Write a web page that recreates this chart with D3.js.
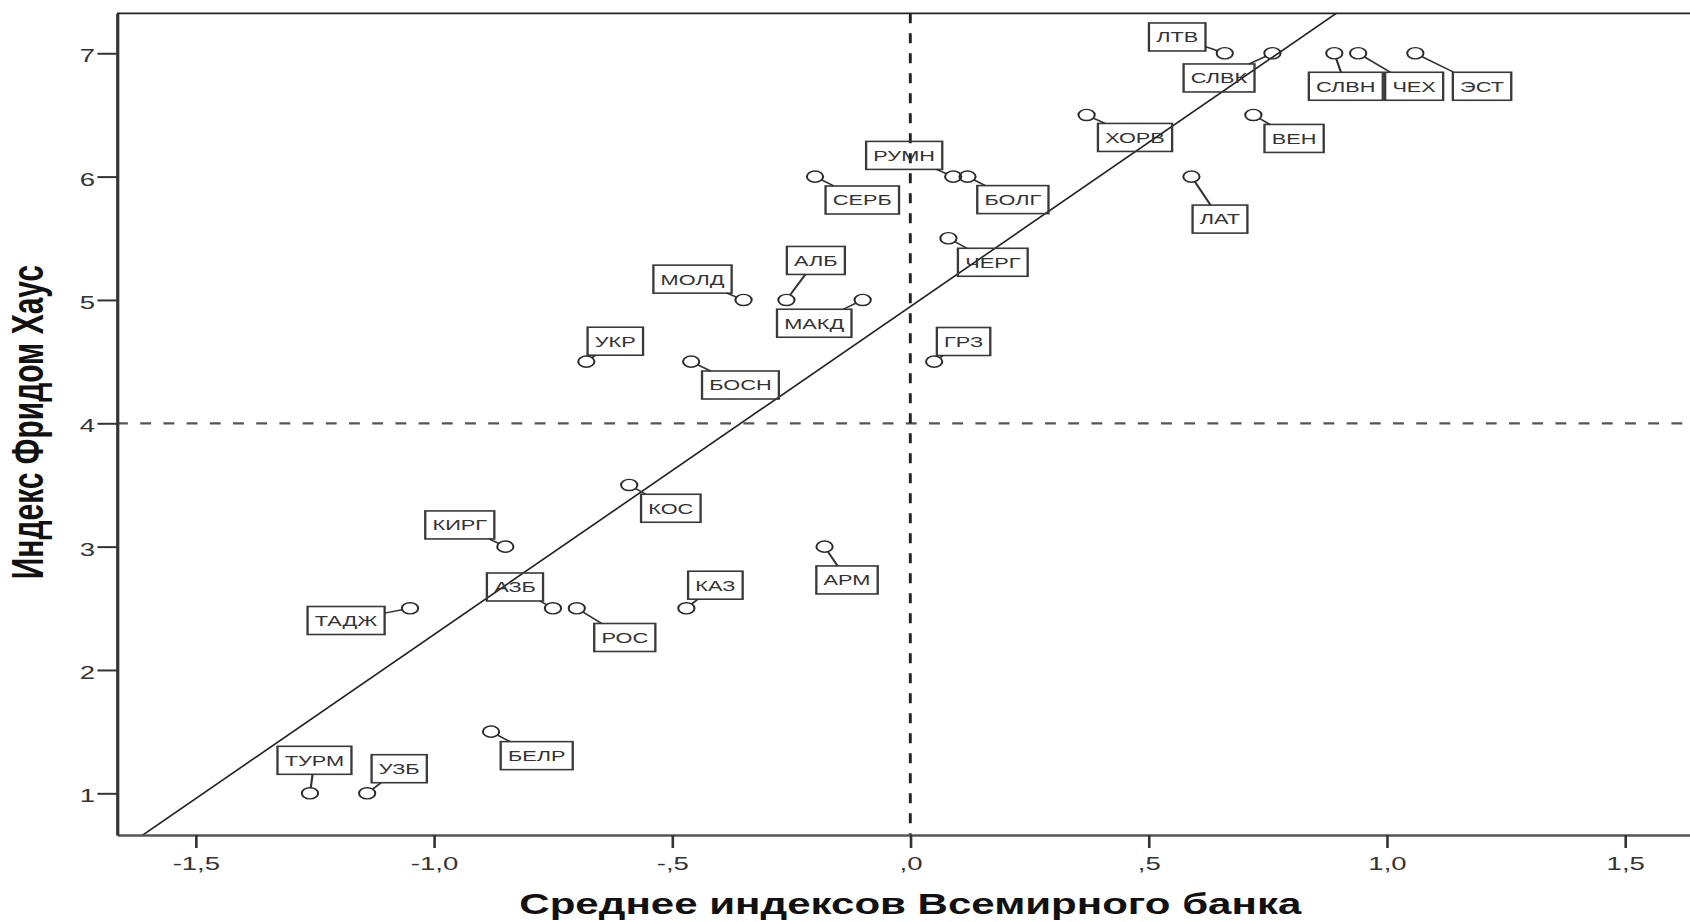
<!DOCTYPE html>
<html>
<head>
<meta charset="utf-8">
<script src="https://cdn.jsdelivr.net/npm/d3@7"></script>
<style>
  html, body { margin: 0; padding: 0; background: #fff; }
  svg { display: block; }
  text { font-family: "Liberation Sans", Arial, sans-serif; }
</style>
</head>
<body>
<script>
// ---------------- data ----------------
const countries = ["ТУРМ","УЗБ","БЕЛР","ТАДЖ","КИРГ","АЗБ","РОС","КАЗ","АРМ","КОС",
  "УКР","БОСН","МОЛД","АЛБ","МАКД","СЕРБ","РУМН","БОЛГ","ЧЕРГ","ГРЗ",
  "ХОРВ","ЛАТ","ВЕН","ЛТВ","СЛВК","СЛВН","ЧЕХ","ЭСТ"];
const worldBankIndex = [-1.26,-1.14,-0.88,-1.05,-0.85,-0.75,-0.70,-0.47,-0.18,-0.59,
  -0.68,-0.46,-0.35,-0.26,-0.10,-0.20,0.09,0.12,0.08,0.05,
  0.37,0.59,0.72,0.66,0.76,0.89,0.94,1.06];
const freedomHouseIndex = [1,1,1.5,2.5,3,2.5,2.5,2.5,3,3.5,
  4.5,4.5,5,5,5,6,6,6,5.5,4.5,
  6.5,6,6.5,7,7,7,7,7];
const xTickValues = [-1.5,-1.0,-0.5,0,0.5,1.0,1.5];
const xTickLabels = ["-1,5","-1,0","-,5",",0",",5","1,0","1,5"];
const yTickValues = [1,2,3,4,5,6,7];
const yTickLabels = ["1","2","3","4","5","6","7"];
const fitIntercept = 4.946;
const fitSlope = 2.6595;
const refLineX = 0;
const refLineY = 4;
const xTitle = "Среднее индексов Всемирного банка";
const yTitle = "Индекс Фридом Хаус";

// ---------------- layout (label box offsets from the point, px) ----------------
const labelOffset = {
  "ТУРМ":[3.1,-33],"УЗБ":[22.1,-24.6],"БЕЛР":[31.5,24],"ТАДЖ":[-44.1,12.2],
  "КИРГ":[-31.4,-21.7],"АЗБ":[-26.2,-21.3],"РОС":[33.1,29.2],"КАЗ":[20,-23.1],
  "АРМ":[15.5,33.3],"КОС":[28.7,23.3],"УКР":[20,-20.4],"БОСН":[34,23.4],
  "МОЛД":[-35.2,-20.8],"АЛБ":[20.3,-39.5],"МАКД":[-33.4,23.3],"СЕРБ":[32.6,23.4],
  "РУМН":[-33.8,-21.2],"БОЛГ":[31.3,23],"ЧЕРГ":[30.6,24],"ГРЗ":[20.3,-20.1],
  "ХОРВ":[33.4,22.5],"ЛАТ":[19.7,42.5],"ВЕН":[28.1,23.5],"ЛТВ":[-32.8,-16.3],
  "СЛВК":[-36.8,24.7],"СЛВН":[7.9,33],"ЧЕХ":[38.6,33],"ЭСТ":[46,33]
};

const W = 1690, H = 922;
const SX = 1.45;               // horizontal stretch of the whole picture
const plot = {left: 80.7, right: 1174.9, top: 13.3, bottom: 835};

const svg = d3.select("body").append("svg").attr("width", W).attr("height", H);
svg.append("rect").attr("width", W).attr("height", H).attr("fill", "#fff");
const g = svg.append("g").attr("transform", `scale(${SX},1)`);

const x = d3.scaleLinear().domain([-1.665, 1.665]).range([plot.left, plot.right]);
const y = d3.scaleLinear().domain([0.662, 7.324]).range([plot.bottom, plot.top]);

g.append("clipPath").attr("id", "plotclip").append("rect")
  .attr("x", plot.left).attr("y", plot.top)
  .attr("width", plot.right - plot.left).attr("height", plot.bottom - plot.top);

const inner = g.append("g").attr("clip-path", "url(#plotclip)");

// reference lines
inner.append("line")
  .attr("x1", plot.left).attr("x2", plot.right)
  .attr("y1", y(refLineY)).attr("y2", y(refLineY))
  .attr("stroke", "#555").attr("stroke-width", 2.2).attr("stroke-dasharray", "7.5,8.5");
inner.append("line")
  .attr("x1", x(refLineX)).attr("x2", x(refLineX))
  .attr("y1", plot.top).attr("y2", plot.bottom)
  .attr("stroke", "#222").attr("stroke-width", 2).attr("stroke-dasharray", "10,10");

// fit line
const xd = x.domain();
inner.append("line")
  .attr("x1", x(xd[0])).attr("y1", y(fitIntercept + fitSlope * xd[0]))
  .attr("x2", x(xd[1])).attr("y2", y(fitIntercept + fitSlope * xd[1]))
  .attr("stroke", "#222").attr("stroke-width", 1.4);

// points & labels
const R = 5.6;
const pts = countries.map((c, i) => ({name: c, px: x(worldBankIndex[i]), py: y(freedomHouseIndex[i])}));
const labG = inner.append("g");
const FS = 15, BOXH = 28, PAD = 5;
pts.forEach(p => {
  const off = labelOffset[p.name];
  const cx = p.px + off[0], cy = p.py + off[1];
  const t = labG.append("text").text(p.name)
    .attr("x", cx).attr("y", cy).attr("dy", "0.36em")
    .attr("text-anchor", "middle").attr("font-size", FS).attr("fill", "#333");
  const tw = t.node().getComputedTextLength();
  const hw = tw / 2 + PAD, hh = BOXH / 2;
  labG.insert("rect", "text")
    .attr("x", cx - hw).attr("y", cy - hh).attr("width", 2 * hw).attr("height", 2 * hh)
    .attr("fill", "none").attr("stroke", "#3a3a3a").attr("stroke-width", 1.6);
  // leader
  const dx = cx - p.px, dy = cy - p.py;
  const sxr = Math.abs(dx) > 1e-6 ? hw / Math.abs(dx) : Infinity;
  const syr = Math.abs(dy) > 1e-6 ? hh / Math.abs(dy) : Infinity;
  const s = Math.min(sxr, syr);
  if (s < 1) {
    const ex = cx - dx * s, ey = cy - dy * s;
    const len = Math.hypot(ex - p.px, ey - p.py);
    if (len > R + 0.5) {
      const ux = (ex - p.px) / len, uy = (ey - p.py) / len;
      labG.append("line")
        .attr("x1", p.px + ux * R).attr("y1", p.py + uy * R)
        .attr("x2", ex).attr("y2", ey)
        .attr("stroke", "#333").attr("stroke-width", 1.5);
    }
  }
});
inner.append("g").selectAll("circle").data(pts).join("circle")
  .attr("cx", d => d.px).attr("cy", d => d.py).attr("r", R)
  .attr("fill", "none").attr("stroke", "#2a2a2a").attr("stroke-width", 1.4);

// axes
const xAxis = d3.axisBottom(x).tickValues(xTickValues)
  .tickFormat((d, i) => xTickLabels[i]).tickSize(13).tickSizeOuter(0).tickPadding(9);
const gx = g.append("g").attr("transform", `translate(0,${plot.bottom})`).call(xAxis);
gx.select(".domain").attr("stroke", "#555").attr("stroke-width", 2.4);
gx.selectAll(".tick line").attr("stroke", "#333").attr("stroke-width", 1.8);
gx.selectAll(".tick text").attr("font-size", 19).attr("fill", "#333")
  .attr("font-family", "Liberation Sans, Arial, sans-serif");

const yAxis = d3.axisLeft(y).tickValues(yTickValues)
  .tickFormat((d, i) => yTickLabels[i]).tickSize(13.5).tickSizeOuter(0).tickPadding(1.7);
const gy = g.append("g").attr("transform", `translate(${plot.left},0)`).call(yAxis);
gy.select(".domain").attr("stroke", "#333").attr("stroke-width", 2.2);
gy.selectAll(".tick line").attr("stroke", "#333").attr("stroke-width", 2);
gy.selectAll(".tick text").attr("font-size", 19).attr("fill", "#333").attr("dy", "0.45em")
  .attr("font-family", "Liberation Sans, Arial, sans-serif");

// top frame line
g.append("line").attr("x1", plot.left).attr("x2", plot.right)
  .attr("y1", plot.top).attr("y2", plot.top)
  .attr("stroke", "#222").attr("stroke-width", 1.8);

// titles
g.append("text").text(xTitle)
  .attr("x", (plot.left + plot.right) / 2).attr("y", 914)
  .attr("text-anchor", "middle").attr("font-size", 29).attr("font-weight", "bold").attr("fill", "#111");
g.append("text").text(yTitle)
  .attr("transform", `translate(29.7,${(plot.top + plot.bottom) / 2 - 2}) rotate(-90)`)
  .attr("text-anchor", "middle").attr("font-size", 30).attr("font-weight", "bold").attr("fill", "#111");
</script>
</body>
</html>
